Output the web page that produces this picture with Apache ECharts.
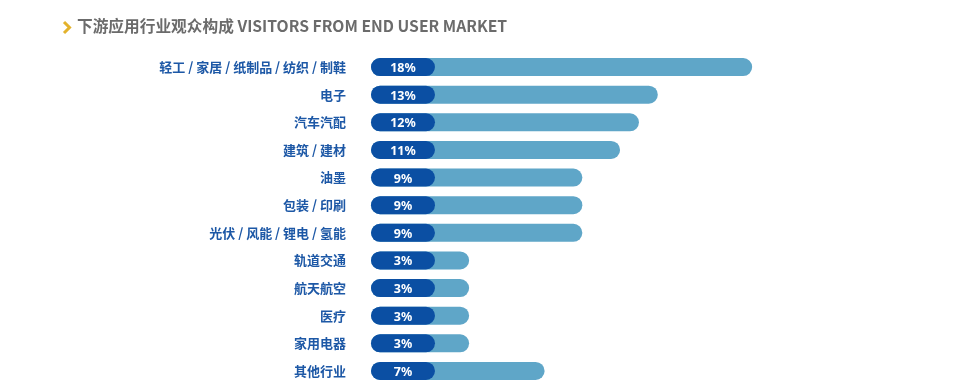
<!DOCTYPE html>
<html><head><meta charset="utf-8">
<script src="https://cdn.jsdelivr.net/npm/echarts@6/dist/echarts.min.js"></script>
<style>html,body{margin:0;padding:0;background:#fff}#c{width:960px;height:392px}</style>
</head><body><div id="c"></div>
<script>
const categories = ['轻工 / 家居 / 纸制品 / 纺织 / 制鞋','电子','汽车汽配','建筑 / 建材','油墨','包装 / 印刷','光伏 / 风能 / 锂电 / 氢能','轨道交通','航天航空','医疗','家用电器','其他行业'];
const values = [18,13,12,11,9,9,9,3,3,3,3,7];
const title = '下游应用行业观众构成 VISITORS FROM END USER MARKET';

const OFFSET = 2.2;   // bar track starts before zero under the label pill
const PILL = 3.39;

const chart = echarts.init(document.getElementById('c'), null, {renderer:'canvas'});
chart.setOption({
  animation:false,
  graphic:[
    {type:'polyline', shape:{points:[[64,22],[69.5,27.5],[64,33]]}, style:{stroke:'#e3b22c', lineWidth:3, fill:null}},
    {type:'text', left:77, top:18.5, style:{text:title, font:'bold 15.7px "Noto Sans CJK SC", "Noto Sans", sans-serif', fill:'#6b6b6b'}}
  ],
  grid:{left:371, top:53.2, width:30*18.87, height:331.5, containLabel:false},
  xAxis:{type:'value', min:0, max:30, show:false},
  yAxis:{type:'category', inverse:true, data:categories,
    axisLine:{show:false}, axisTick:{show:false},
    axisLabel:{margin:25, color:'#1d58a6', fontSize:13, fontWeight:'bold', fontFamily:'"Noto Sans CJK SC", sans-serif'}},
  series:[
    {type:'bar', barWidth:18, data:values.map(v=>v+OFFSET),
      itemStyle:{color:'#5fa6c8', borderRadius:9}, silent:true},
    {type:'bar', barWidth:18, barGap:'-100%', data:values.map(v=>PILL),
      itemStyle:{color:'#0b4fa3', borderRadius:9},
      label:{show:true, position:'inside', offset:[0,1.5], color:'#fff', fontSize:12.5, fontWeight:'bold',
        fontFamily:'"Noto Sans", sans-serif',
        formatter:p=>values[p.dataIndex]+'%'}}
  ]
});
</script></body></html>
